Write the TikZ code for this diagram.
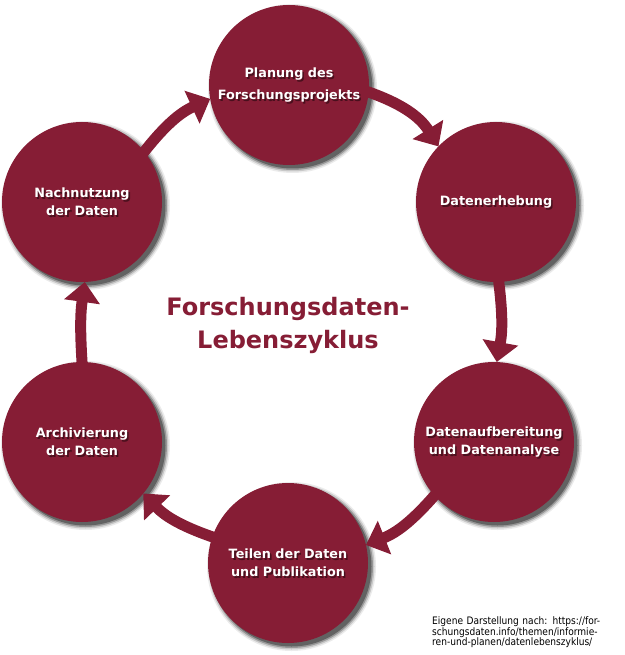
\documentclass[tikz,border=0pt]{standalone}
\usepackage{fontspec}
\setmainfont{DejaVu Sans}
\newfontfamily\notefont[FakeStretch=0.88]{DejaVu Sans}
\usetikzlibrary{arrows.meta,calc}
\definecolor{maroon}{RGB}{134,29,53}
\pgfdeclarelayer{shadowlayer}
\pgfdeclarelayer{arrowlayer}
\pgfsetlayers{shadowlayer,arrowlayer,main}
\tikzset{
  phasefont/.style={font=\fontsize{12.8}{18}\selectfont\bfseries},
  txtshadow/.style={text=black, opacity=0.45, align=center, inner sep=0pt, phasefont},
  phase/.style={circle, fill=maroon, minimum size=160pt, inner sep=0pt, outer sep=0pt,
    text=white, align=center, phasefont,
    path picture={\node[txtshadow] at ([xshift=1.6pt,yshift=-2.2pt]path picture bounding box.center) {#1};}},
  cyclearrow/.style={draw=maroon, line width=11pt, -{Triangle[width=35pt,length=20pt]}, shorten <=-8pt},
}
\begin{document}
\begin{tikzpicture}[x=1pt,y=1pt]
\useasboundingbox (0,0) rectangle (624,-655);

\node[phase={Planung des\\[4pt]Forschungsprojekts}] (plan) at (289,-85) {Planung des\\[4pt]Forschungsprojekts};
\node[phase={Datenerhebung}] (erh) at (496,-202) {Datenerhebung};
\node[phase={Datenaufbereitung\\und Datenanalyse}] (aufb) at (494,-442) {Datenaufbereitung\\und Datenanalyse};
\node[phase={Teilen der Daten\\und Publikation}] (teil) at (288,-563) {Teilen der Daten\\und Publikation};
\node[phase={Archivierung\\der Daten}] (arch) at (82,-442) {Archivierung\\der Daten};
\node[phase={Nachnutzung\\der Daten}] (nach) at (82,-202) {Nachnutzung\\der Daten};

\begin{pgfonlayer}{shadowlayer}
\foreach \n in {plan,erh,aufb,teil,arch,nach}{
  \fill[black, opacity=0.08] ([shift={(3.5pt,-3.5pt)}]\n.center) circle (84.5pt);
  \fill[black, opacity=0.15] ([shift={(3.5pt,-3.5pt)}]\n.center) circle (83pt);
  \fill[black, opacity=0.25] ([shift={(3.5pt,-3.5pt)}]\n.center) circle (81.5pt);
  \fill[black, opacity=0.35] ([shift={(3.5pt,-3.5pt)}]\n.center) circle (80pt);
}
\end{pgfonlayer}

\begin{pgfonlayer}{arrowlayer}
\draw[cyclearrow] (plan.-5) to[bend left=20] (erh.136);
\draw[cyclearrow] (erh.-88) to[bend left=9] (aufb.88);
\draw[cyclearrow] (aufb.-138) to[bend left=14] (teil.13);
\draw[cyclearrow] (teil.161) to[bend left=14] (arch.-40);
\draw[cyclearrow] (arch.90) to[bend left=6] (nach.-88);
\draw[cyclearrow] (nach.39) to[bend left=14] (plan.190);
\end{pgfonlayer}

\node[font=\fontsize{24}{33}\selectfont\bfseries, text=maroon, align=center, inner sep=0pt] (title) at (288,-325) {Forschungsdaten-\\Lebenszyklus};

\node[anchor=north west, align=left, inner sep=0pt, text=black, font=\notefont\fontsize{10.3}{10.7}\selectfont] (src) at (432,-616.5)
 {\makebox[168pt][s]{Eigene Darstellung nach: https://for-}\\
  \makebox[168pt][l]{schungsdaten.info/themen/informie-}\\
  \makebox[168pt][l]{ren-und-planen/datenlebenszyklus/}};
\end{tikzpicture}
\end{document}
